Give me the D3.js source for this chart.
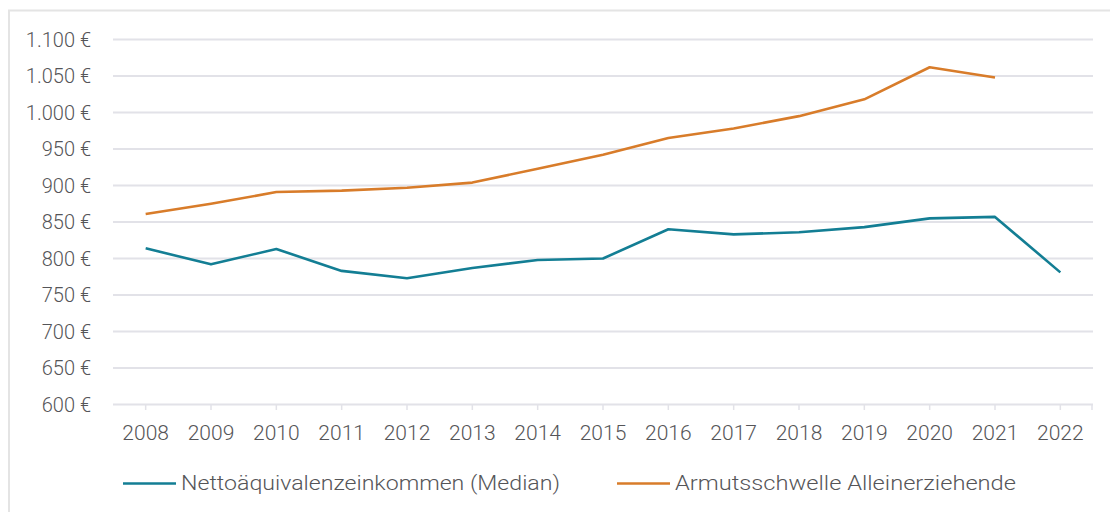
<!DOCTYPE html>
<html><head><meta charset="utf-8">
<script src="https://cdn.jsdelivr.net/npm/d3@7"></script>
<style>
html,body{margin:0;padding:0;background:#fff;}
svg{display:block;}
</style></head>
<body>
<svg id="chart" width="1110" height="512"></svg>
<script>
const years = ["2008","2009","2010","2011","2012","2013","2014","2015","2016","2017","2018","2019","2020","2021","2022"];
const medianIncome = [814,792,813,783,773,787,798,800,840,833,836,843,855,857,781];
const povertyThreshold = [861,875,891,893,897,904,923,942,965,978,995,1018,1062,1048,null];
const yTicks = [600,650,700,750,800,850,900,950,1000,1050,1100];
const seriesNames = ["Nettoäquivalenzeinkommen (Median)","Armutsschwelle Alleinerziehende"];
const seriesColors = ["#137e94","#d87c2a"];

const svg = d3.select("#chart");
const fmt = v => d3.format(",")(v).replace(/,/g,".") + " €";
const textCol = "#555558";
const gridCol = "#e2e2e8";

// panel border
svg.append("path").attr("d","M9,1000 V10.5 H1200").attr("fill","none")
  .attr("stroke","#e4e4e4").attr("stroke-width",2);

const x = d3.scaleBand().domain(years).range([113,1093]);
const y = d3.scaleLinear().domain([600,1100]).range([404.5,39.5]);

// gridlines
svg.append("g").selectAll("line").data(yTicks).join("line")
  .attr("x1",113).attr("x2",1093)
  .attr("y1",d=>y(d)).attr("y2",d=>y(d))
  .attr("stroke",gridCol).attr("stroke-width",2);

// y labels
svg.append("g").selectAll("text").data(yTicks).join("text")
  .attr("x",91).attr("y",d=>y(d)).attr("dy","0.35em")
  .attr("text-anchor","end")
  .attr("font-family","Roboto").attr("font-weight",300).attr("font-size",20)
  .attr("fill",textCol).text(fmt);

// x ticks
const tickXs = years.map(d=>x(d)+x.bandwidth()/2).concat([1092]);
svg.append("g").selectAll("line").data(tickXs).join("line")
  .attr("x1",d=>d).attr("x2",d=>d).attr("y1",404.5).attr("y2",410)
  .attr("stroke",gridCol).attr("stroke-width",1.5);

// x labels
svg.append("g").selectAll("text").data(years).join("text")
  .attr("x",d=>x(d)+x.bandwidth()/2).attr("y",433).attr("dy","0.35em")
  .attr("text-anchor","middle")
  .attr("font-family","Roboto").attr("font-weight",300).attr("font-size",21)
  .attr("fill",textCol).text(d=>d);

// lines
const line = d3.line()
  .defined(d=>d.v!=null)
  .x(d=>x(d.year)+x.bandwidth()/2).y(d=>y(d.v));
[medianIncome,povertyThreshold].forEach((arr,i)=>{
  svg.append("path")
    .datum(years.map((yr,j)=>({year:yr,v:arr[j]})))
    .attr("d",line).attr("fill","none")
    .attr("stroke",seriesColors[i]).attr("stroke-width",2.6)
    .attr("stroke-linejoin","round");
});

// legend
const legendPos = [{lx:123, tx:181, tw:379},{lx:617, tx:675, tw:341}];
seriesNames.forEach((name,i)=>{
  const p = legendPos[i];
  svg.append("line").attr("x1",p.lx).attr("x2",p.lx+53)
    .attr("y1",483.5).attr("y2",483.5)
    .attr("stroke",seriesColors[i]).attr("stroke-width",2.6);
  svg.append("text").attr("x",p.tx).attr("y",483).attr("dy","0.35em")
    .attr("font-family","Roboto").attr("font-weight",300).attr("font-size",20.5)
    .attr("textLength",p.tw).attr("lengthAdjust","spacingAndGlyphs")
    .attr("fill",textCol).text(name);
});
</script>
</body></html>
